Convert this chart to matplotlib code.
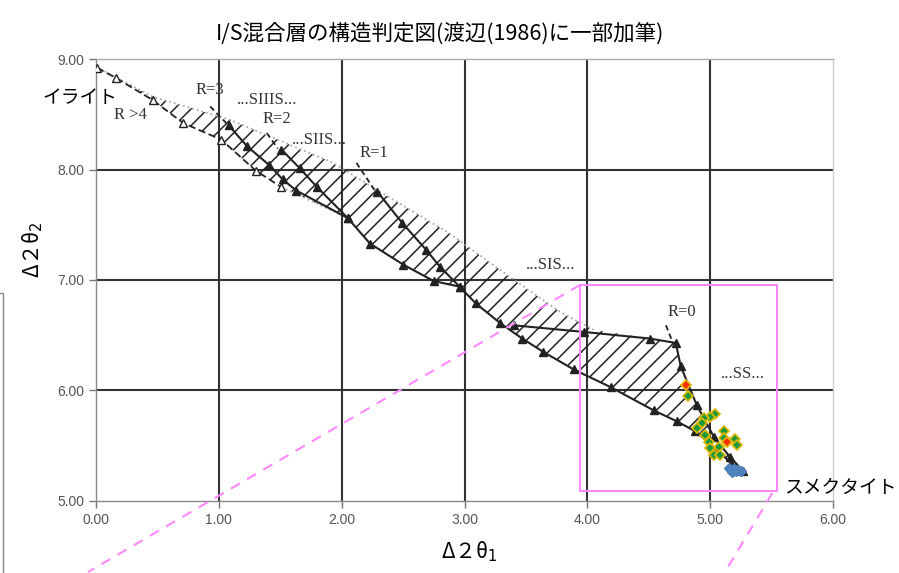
import numpy as np
import matplotlib
matplotlib.use('Agg')
import matplotlib.pyplot as plt
from matplotlib.patches import Polygon, Rectangle
from matplotlib.lines import Line2D

plt.rcParams['font.family'] = ['Noto Sans CJK JP', 'DejaVu Sans']
plt.rcParams['hatch.linewidth'] = 1.1

upper_x = [0.00, 0.46, 1.09, 1.50, 1.93, 2.31, 2.88, 3.34, 3.78, 4.05]
upper_y = [8.93, 8.66, 8.45, 8.26, 8.06, 7.80, 7.42, 7.05, 6.71, 6.55]

r4_x = [0.01, 0.16, 0.46, 0.71, 1.02, 1.30, 1.51, 2.05]
r4_y = [8.92, 8.83, 8.63, 8.42, 8.27, 7.99, 7.84, 7.56]

r3_x = [1.08, 1.23, 1.41, 1.52, 1.63, 2.05, 2.23, 2.50, 2.75, 2.96]
r3_y = [8.40, 8.21, 8.04, 7.91, 7.81, 7.56, 7.33, 7.14, 6.99, 6.94]

r2_x = [1.51, 1.66, 1.80, 2.05]
r2_y = [8.18, 8.01, 7.84, 7.56]

r1_x = [2.29, 2.49, 2.69, 2.80, 2.96, 3.09, 3.29, 3.47, 3.64, 3.89, 4.19, 4.54, 4.73, 4.88, 5.05, 5.18, 5.27]
r1_y = [7.80, 7.52, 7.27, 7.12, 6.94, 6.79, 6.61, 6.47, 6.35, 6.19, 6.03, 5.82, 5.72, 5.63, 5.47, 5.33, 5.27]

r0_x = [3.40, 3.97, 4.51, 4.72, 4.76, 4.89, 5.03, 5.16, 5.27]
r0_y = [6.59, 6.53, 6.47, 6.43, 6.22, 5.87, 5.58, 5.40, 5.27]

# short dashed leaders from the R labels
lead_x = [[0.93, 1.06], [1.39, 1.48], [2.12, 2.27], [4.64, 4.70]]
lead_y = [[8.57, 8.42], [8.33, 8.19], [8.06, 7.81], [6.59, 6.42]]

# measured samples
green_x = [4.82, 5.04, 5.00, 4.95, 4.93, 4.89, 4.96, 5.11, 5.11, 5.20, 5.22, 4.99, 5.07, 5.00, 5.03, 5.08]
green_y = [5.95, 5.79, 5.76, 5.75, 5.71, 5.66, 5.60, 5.63, 5.57, 5.56, 5.51, 5.53, 5.49, 5.48, 5.42, 5.42]
red_x = [4.80, 5.14]
red_y = [6.05, 5.53]
blue_x = [5.15, 5.17, 5.19, 5.21, 5.23, 5.25, 5.18]
blue_y = [5.30, 5.28, 5.29, 5.27, 5.28, 5.27, 5.26]

# text labels
lab_text = ['R=3', '...SIIIS...', 'R=2', '...SIIS...', 'R=1', 'R >4', '...SIS...', 'R=0', '...SS...']
lab_x = [0.93, 1.39, 1.47, 1.82, 2.26, 0.28, 3.70, 4.77, 5.27]
lab_y = [8.72, 8.63, 8.46, 8.27, 8.15, 8.49, 7.14, 6.71, 6.15]

# zoom box and callout
box_x = [3.94, 5.54]
box_y = [5.09, 6.955]
call_x = [[3.94, -0.065], [5.505, 5.12]]
call_y = [[6.955, 4.357], [5.07, 4.357]]

xticks = [0, 1, 2, 3, 4, 5, 6]
yticks = [5, 6, 7, 8, 9]

fig = plt.figure(figsize=(8.99, 5.73), dpi=100)
ax = fig.add_axes([0.1068, 0.1257, 0.8198, 0.7713])
ax.set_xlim(0, 6)
ax.set_ylim(5, 9)
ax.set_xticks(xticks)
ax.set_yticks(yticks)
ax.set_xticklabels([f'{v:.2f}' for v in xticks])
ax.set_yticklabels([f'{v:.2f}' for v in yticks])
ax.tick_params(length=5, width=1, color='#777777', labelcolor='#555555', labelsize=10,
               labelfontfamily='Liberation Sans')

# interior grid lines only
ax.grid(True, color='#333333', linewidth=1.5, zorder=0)
for gl in (ax.get_xgridlines()[0], ax.get_xgridlines()[-1],
           ax.get_ygridlines()[0], ax.get_ygridlines()[-1]):
    gl.set_visible(False)
for s in ax.spines.values():
    s.set_color('#888888')
    s.set_linewidth(1.0)
ax.spines['top'].set_color('#aaaaaa')
ax.spines['right'].set_color('#cccccc')

# hatched band
poly_x = upper_x + r0_x[2:] + r1_x[4:][::-1] + r3_x[5:9][::-1] + r4_x[:7][::-1]
poly_y = upper_y + r0_y[2:] + r1_y[4:][::-1] + r3_y[5:9][::-1] + r4_y[:7][::-1]
band = Polygon(np.column_stack([poly_x, poly_y]), closed=True, facecolor='none',
               edgecolor='#222222', linewidth=0, hatch='//', zorder=2)
ax.add_patch(band)

ax.plot(upper_x, upper_y, color='#aaaaaa', linestyle=':', linewidth=1.3, zorder=3)
ax.plot(r4_x[:7], r4_y[:7], color='#222222', linestyle='--', dashes=(4, 2), linewidth=1.3,
        marker='^', markersize=6, markerfacecolor='white', markeredgecolor='#222222', zorder=4)
ax.plot(r4_x[6:], r4_y[6:], color='#aaaaaa', linestyle=':', linewidth=1.3, zorder=3)
for lx, ly in [(r3_x, r3_y), (r2_x, r2_y), (r1_x[:-1], r1_y[:-1]), (r0_x, r0_y)]:
    ax.plot(lx, ly, color='#222222', linewidth=1.5, marker='^', markersize=6, zorder=4)
ax.plot(r1_x[-2:], r1_y[-2:], color='#222222', linewidth=1.5, zorder=4)
for lx, ly in zip(lead_x, lead_y):
    ax.plot(lx, ly, color='#222222', linestyle='--', dashes=(3, 2), linewidth=1.3, zorder=4)

for t, x, y in zip(lab_text, lab_x, lab_y):
    ax.text(x, y, t, ha='center', va='center', fontsize=12, color='#333333',
            family=['Liberation Serif', 'DejaVu Serif'], zorder=5)

# samples
ax.plot(blue_x, blue_y, linestyle='none', marker='D', markersize=5, color='#4f81bd',
        markeredgecolor='#4f81bd', zorder=6)
ax.plot(green_x, green_y, linestyle='none', marker='D', markersize=5, color='#1e9a3c',
        markeredgecolor='#e0b800', markeredgewidth=1.2, zorder=6)
ax.plot(red_x, red_y, linestyle='none', marker='D', markersize=5, color='#ff2a00',
        markeredgecolor='#e0b800', markeredgewidth=1.2, zorder=7)

# zoom box and callout lines
ax.add_patch(Rectangle((box_x[0], box_y[0]), box_x[1] - box_x[0], box_y[1] - box_y[0],
                       fill=False, edgecolor='#ff88ff', linewidth=1.5, zorder=8, clip_on=False))
for cx, cy in zip(call_x, call_y):
    ax.plot(cx, cy, color='#ff88ff', linestyle='--', dashes=(5, 4), linewidth=1.5,
            zorder=8, clip_on=False)

ax.text(-0.13, 8.65, 'イライト', ha='center', va='center', fontsize=13.5, clip_on=False, zorder=9)
ax.text(6.06, 5.12, 'スメクタイト', ha='center', va='center', fontsize=13.5, clip_on=False, zorder=9)

ax.set_xlabel('Δ２θ$_{1}$', fontsize=15)
ax.set_ylabel('Δ２θ$_{2}$', fontsize=15)
ax.xaxis.set_label_coords(0.507, -0.088)
ax.yaxis.set_label_coords(-0.069, 0.568)

fig.text(0.49, 1 - 34 / 573, 'I/S混合層の構造判定図(渡辺(1986)に一部加筆)',
         ha='center', va='center', fontsize=15.5)

# edge of neighbouring frame on the left
fig.add_artist(Line2D([0.0, 0.0034, 0.0034], [1 - 293 / 573, 1 - 293 / 573, 0.0],
                      color='#888888', linewidth=1.0))

fig.savefig('out.png', dpi=100)
